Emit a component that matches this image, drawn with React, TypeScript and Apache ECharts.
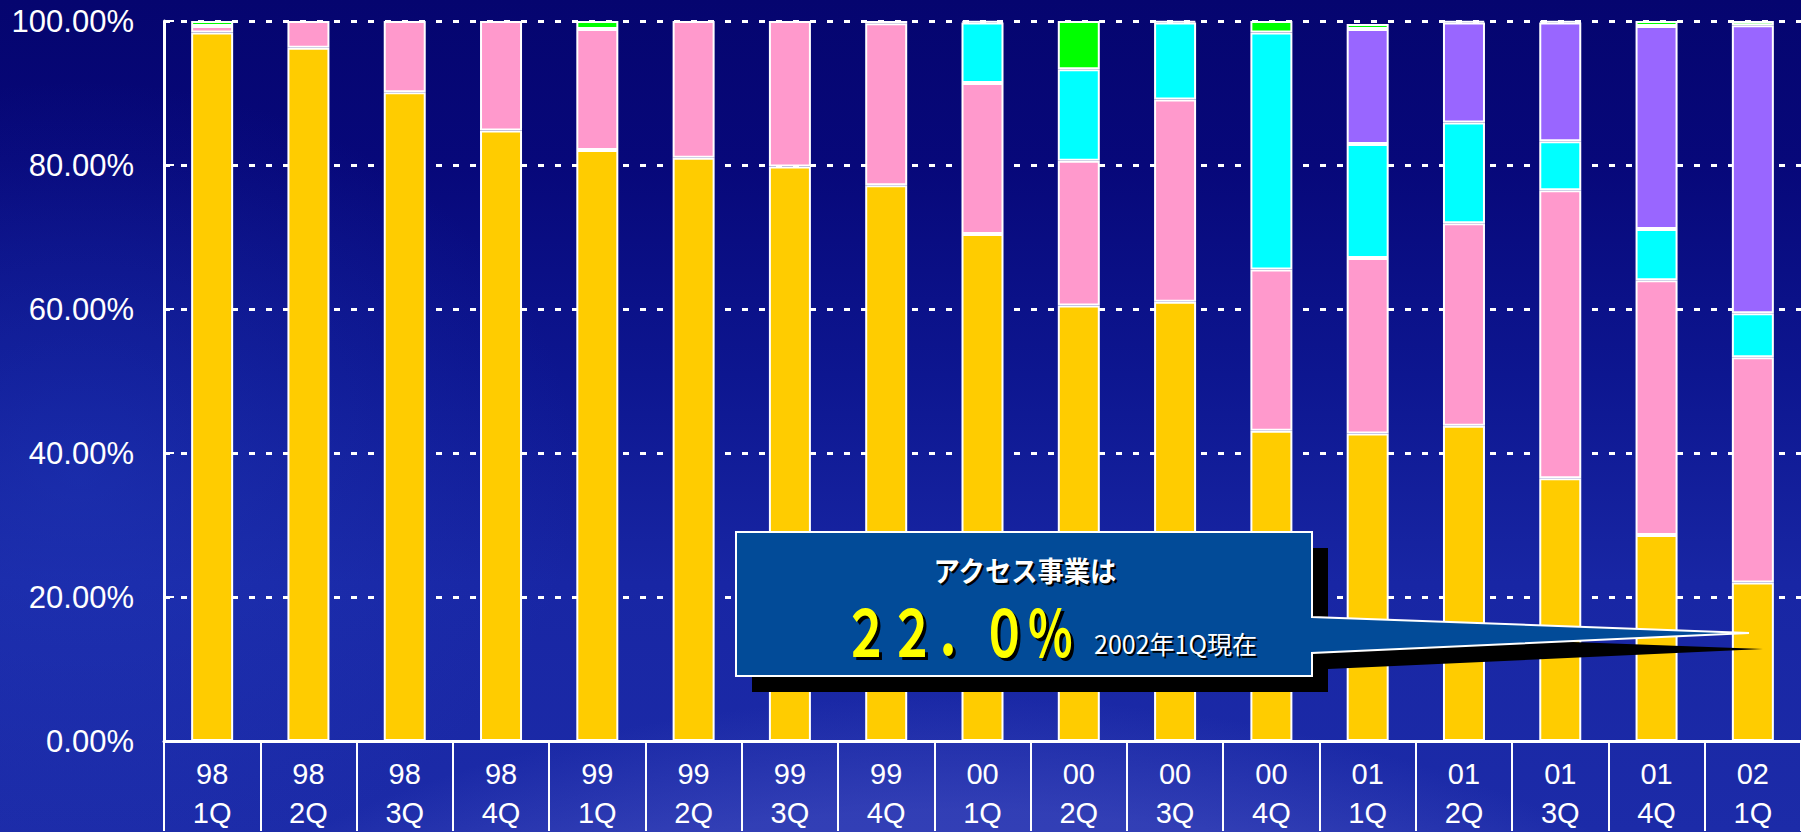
import React, { useEffect, useRef } from "react";
import * as echarts from "echarts";

const categories = [
  "98\n1Q", "98\n2Q", "98\n3Q", "98\n4Q",
  "99\n1Q", "99\n2Q", "99\n3Q", "99\n4Q",
  "00\n1Q", "00\n2Q", "00\n3Q", "00\n4Q",
  "01\n1Q", "01\n2Q", "01\n3Q", "01\n4Q",
  "02\n1Q",
];

// share of sales (%), stacked bottom → top
const accessShare = [98.4, 96.3, 90.1, 84.8, 82.1, 81.0, 79.8, 77.2, 70.4, 60.5, 61.0, 43.1, 42.7, 43.8, 36.5, 28.6, 22.0];
const pinkShare = [0.9, 3.7, 9.9, 15.2, 16.8, 19.0, 20.2, 22.5, 21.0, 20.1, 28.1, 22.4, 24.4, 28.1, 40.0, 35.4, 31.3];
const cyanShare = [0, 0, 0, 0, 0, 0, 0, 0, 8.4, 12.7, 10.7, 32.9, 15.8, 14.0, 6.8, 7.1, 6.1];
const purpleShare = [0, 0, 0, 0, 0, 0, 0, 0, 0, 0, 0, 0, 16.0, 13.9, 16.5, 28.2, 40.0];
const greenShare = [0.7, 0, 0, 0, 1.1, 0, 0, 0, 0, 6.7, 0, 1.6, 0.7, 0, 0, 0.7, 0.6];
const otherShare = [0, 0, 0, 0, 0, 0, 0, 0.3, 0.2, 0, 0.2, 0, 0, 0.2, 0.2, 0, 0];

const yTicks = { min: 0, max: 100, interval: 20 };

const calloutTitle = "アクセス事業は";
const calloutValue = "２２．０％";
const calloutNote = "2002年1Q現在";

const seriesDefs = [
  { name: "アクセス事業", data: accessShare, color: "#FFCC00" },
  { name: "系列2", data: pinkShare, color: "#FF99CC" },
  { name: "系列3", data: cyanShare, color: "#00FFFF" },
  { name: "系列4", data: purpleShare, color: "#9966FF" },
  { name: "系列5", data: greenShare, color: "#00FF00" },
  { name: "系列6", data: otherShare, color: "#FFFFFF" },
];

export default function App() {
  const ref = useRef<HTMLDivElement>(null);
  useEffect(() => {
    if (!ref.current) return;
    const chart = echarts.init(ref.current, null, { renderer: "svg" });
    const calloutPts = [
      [736, 532], [1312, 532], [1312, 617], [1749, 633], [1312, 653], [1312, 676], [736, 676],
    ];
    const shadowPts = calloutPts.map(([x, y], i) => (i === 3 ? [x + 14, y + 16] : [x + 16, y + 16]));
    chart.setOption({
      animation: false,
      backgroundColor: "transparent",
      grid: { left: 164, top: 21, width: 1640, height: 727 },
      xAxis: {
        type: "category",
        data: categories,
        axisLine: { show: true, lineStyle: { color: "#fff", width: 3 } },
        axisTick: { show: true, length: 90, lineStyle: { color: "#fff", width: 2 } },
        axisLabel: {
          color: "#fff",
          fontSize: 29,
          lineHeight: 39,
          fontFamily: "Liberation Sans, Arial, sans-serif",
          margin: 13,
          interval: 0,
        },
        splitLine: { show: false },
      },
      yAxis: {
        type: "value",
        min: yTicks.min,
        max: yTicks.max,
        interval: yTicks.interval,
        axisLine: { show: true, lineStyle: { color: "#fff", width: 3 } },
        axisTick: { show: true, inside: true, length: 10, lineStyle: { color: "#fff", width: 2 } },
        axisLabel: {
          color: "#fff",
          fontSize: 31,
          fontFamily: "Liberation Sans, Arial, sans-serif",
          margin: 30,
          formatter: (v: number) => v.toFixed(2) + "%",
        },
        splitLine: { show: true, lineStyle: { color: "#fff", width: 3, type: [6, 11] } },
      },
      series: seriesDefs.map((s) => ({
        type: "bar",
        name: s.name,
        stack: "total",
        barWidth: 42,
        data: s.data.map((v) => (v === 0 ? "-" : v)),
        itemStyle: { color: s.color, borderColor: "#fff", borderWidth: 2 },
      })),
      graphic: [
        {
          type: "polygon",
          z: 100,
          shape: { points: shadowPts },
          style: { fill: "#000" },
        },
        {
          type: "polygon",
          z: 101,
          shape: { points: calloutPts },
          style: { fill: "#024B98", stroke: "#fff", lineWidth: 2 },
        },
        {
          type: "text", z: 102, x: 1027, y: 572, scaleX: 0.94,
          style: { text: calloutTitle, fill: "#000", font: 'bold 28px "Noto Sans CJK JP"', align: "center", verticalAlign: "middle" },
        },
        {
          type: "text", z: 103, x: 1025, y: 570, scaleX: 0.94,
          style: { text: calloutTitle, fill: "#fff", font: 'bold 28px "Noto Sans CJK JP"', align: "center", verticalAlign: "middle" },
        },
        {
          type: "text", z: 102, x: 846, y: 632, scaleX: 0.72,
          style: { text: calloutValue, fill: "#000", font: 'bold 64px "Noto Sans CJK JP"', align: "left", verticalAlign: "middle" },
        },
        {
          type: "text", z: 103, x: 843, y: 629, scaleX: 0.72,
          style: { text: calloutValue, fill: "#FFFF00", font: 'bold 64px "Noto Sans CJK JP"', align: "left", verticalAlign: "middle" },
        },
        {
          type: "text", z: 102, x: 1096, y: 645,
          style: { text: calloutNote, fill: "#000", font: '25px "Noto Sans CJK JP"', align: "left", verticalAlign: "middle" },
        },
        {
          type: "text", z: 103, x: 1094, y: 643,
          style: { text: calloutNote, fill: "#fff", font: '25px "Noto Sans CJK JP"', align: "left", verticalAlign: "middle" },
        },
      ],
    });
    return () => chart.dispose();
  }, []);
  return (
    <div
      ref={ref}
      style={{
        position: "absolute",
        left: 0,
        top: 0,
        width: 1801,
        height: 832,
        background:
          "radial-gradient(ellipse 1500px 950px at 950px 1380px, rgba(90,100,210,0.5) 0%, rgba(80,90,200,0.42) 60%, rgba(40,50,170,0) 72%)," +
          "radial-gradient(ellipse 500px 400px at 80px 480px, rgba(40,70,200,0.35) 0%, rgba(40,70,200,0) 100%)," +
          "linear-gradient(180deg, #05056f 0%, #07087a 20%, #0d1690 45%, #1826a4 70%, #1c2ba8 100%)",
      }}
    />
  );
}
